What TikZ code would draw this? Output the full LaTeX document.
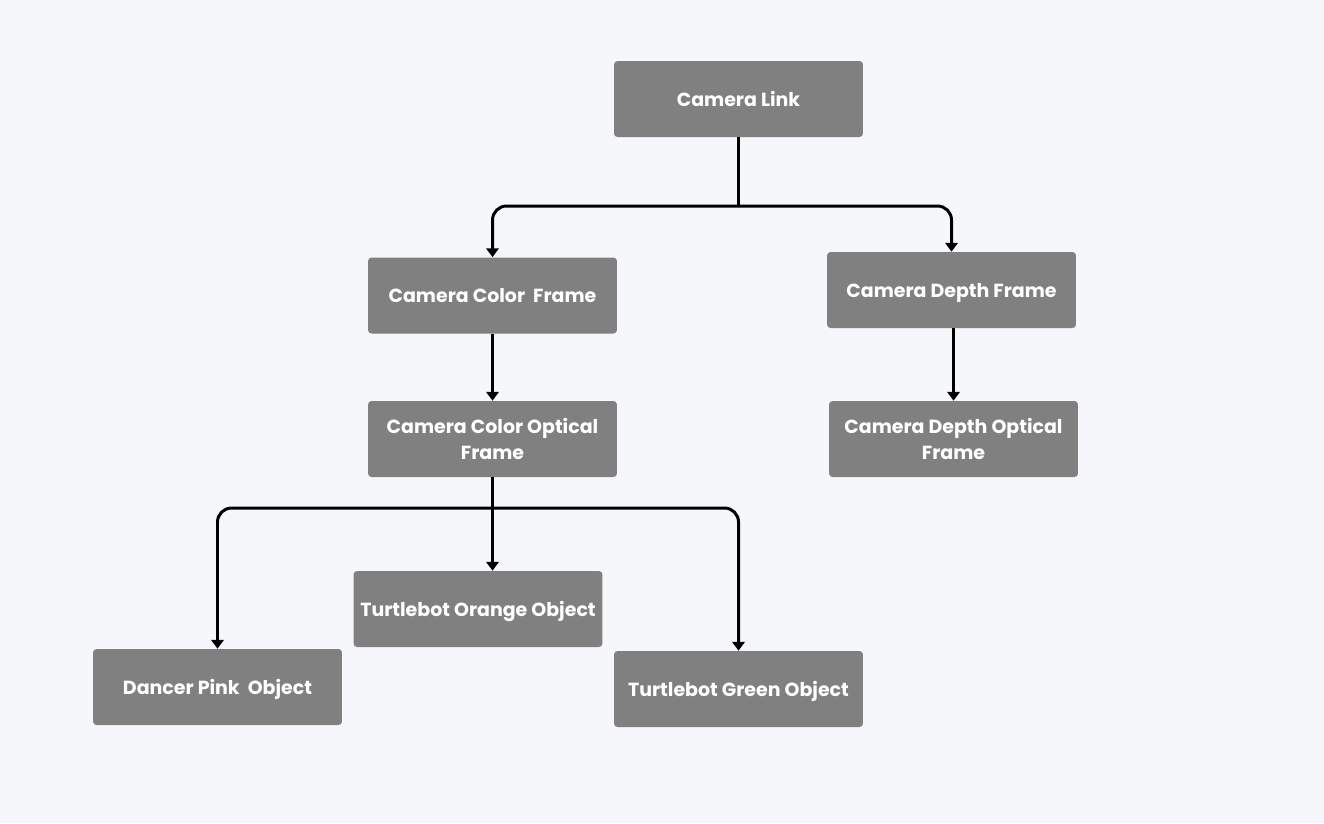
\documentclass[tikz,border=0pt]{standalone}
\usepackage{fontspec}
\setmainfont{Poppins}
\usetikzlibrary{arrows.meta}
\definecolor{bggray}{HTML}{F5F7FA}
\definecolor{boxgray}{HTML}{808080}
\tikzset{
  frame/.style={fill=boxgray, rounded corners=2pt, minimum width=4.98cm, minimum height=1.52cm,
    text=white, font=\bfseries\fontsize{10.8}{14.8}\selectfont, align=center, inner sep=2pt,
    text depth=0pt},
  link/.style={line width=1.7pt, black, rounded corners=8pt},
  tip/.style={-{Triangle[width=7pt,length=5pt]}},
  tips/.style={{Triangle[width=7pt,length=5pt]}-{Triangle[width=7pt,length=5pt]}}
}
\begin{document}
\begin{tikzpicture}[x=0.02cm, y=-0.02cm]
	\fill[bggray] (0, 0) rectangle (1324, 823);
	\useasboundingbox (0, 0) rectangle (1324, 823);
	% frames
	\node[frame] (camlink) at (738.5, 99) {Camera Link};
	\node[frame] (colorframe) at (492.5, 295.5) {Camera Color\ \ Frame};
	\node[frame] (depthframe) at (951.5, 290) {Camera Depth Frame};
	\node[frame] (coloroptical) at (492.5, 439) {Camera Color Optical\\Frame};
	\node[frame] (depthoptical) at (953.5, 439) {Camera Depth Optical\\Frame};
	% objects
	\node[frame] (orange) at (478, 609) {Turtlebot Orange Object};
	\node[frame] (pink) at (217.5, 687) {Dancer Pink\ \ Object};
	\node[frame] (green) at (738.5, 689) {Turtlebot Green Object};
	\coordinate (split1) at (738.5, 206);
	\coordinate (split2) at (492.5, 508);
	% connectors
	\draw[link] (camlink) -- (split1);
	\draw[link, tips] (colorframe.north) |- (split1) -| (depthframe.north);
	\draw[link, tip] (colorframe) -- (coloroptical);
	\draw[link, tip] (depthframe.south -| depthoptical.north) -- (depthoptical.north);
	\draw[link] (coloroptical) -- (split2);
	\draw[link, tips] (pink.north) |- (split2) -| (green.north);
	\draw[link, tip] (split2) -- (split2 |- orange.north);
\end{tikzpicture}
\end{document}
